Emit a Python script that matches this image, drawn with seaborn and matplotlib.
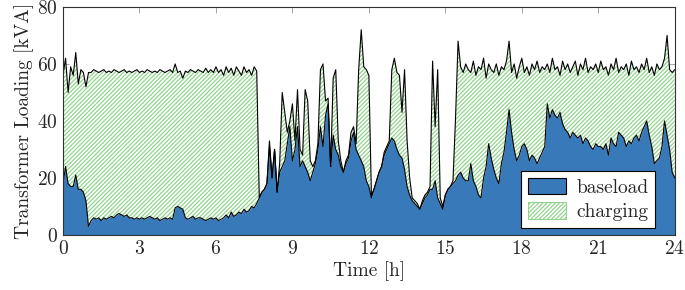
import numpy as np
import pandas as pd
import matplotlib
matplotlib.use('Agg')
import matplotlib.pyplot as plt
import seaborn as sns
from matplotlib.patches import Patch

# Time axis, 6-minute resolution over one day
hours = np.round(np.arange(0, 24.01, 0.1), 1)

# Baseload (kVA)
baseload = [
    18, 24, 18, 17, 17, 21, 16, 16, 15, 12,
    3, 5, 6, 5.5, 6, 5, 6, 5.5, 6, 6.5,
    6, 7, 7.5, 7, 6.5, 7, 6, 6, 5.5, 6,
    5.5, 6, 5.5, 6, 6.5, 6, 5.5, 6, 5, 5.5,
    6, 5.5, 6, 5.5, 9.5, 10, 9.5, 9, 6, 5.5,
    6, 6.5, 5.5, 6, 6, 5.5, 5, 5.5, 6, 5.5,
    6, 5, 5.5, 6, 7, 6, 8, 6.5, 7, 8,
    7.5, 9, 8, 8.5, 10, 9.5, 11, 13, 15, 16,
    18, 31, 20, 30, 15, 22, 24, 26, 32, 38,
    26, 30, 38, 24, 26, 24, 22, 19, 22, 25,
    30, 38, 31, 42, 46, 24, 35, 30, 28, 24,
    22, 25, 27, 33, 36, 30, 28, 26, 24, 19,
    17, 13, 16, 19, 22, 24, 28, 30, 32, 34,
    33, 30, 28, 27, 23, 17, 14, 12, 11, 10,
    9, 11, 13, 14, 16, 16, 19, 13, 11, 9,
    14, 16, 17, 18, 19, 21, 22, 20, 19, 19,
    25, 19, 17, 14, 13, 20, 24, 32, 27, 23,
    20, 18, 25, 29, 36, 44, 36, 30, 26, 28,
    31, 32, 30, 26, 28, 27, 25, 27, 29, 31,
    46, 41, 44, 42, 41, 43, 39, 37, 36, 34,
    36, 35, 34, 35, 32, 34, 33, 31, 30, 32,
    31, 31, 30, 32, 28, 34, 32, 31, 36, 35,
    34, 31, 33, 32, 34, 35, 33, 36, 38, 40,
    35, 31, 25, 26, 27, 31, 40, 35, 30, 22,
    20,
]

# Total transformer loading (baseload + charging), kVA
total = [
    56, 62, 50, 59, 56, 64, 53, 58, 57, 52,
    57, 57, 58, 57.5, 57, 57.5, 58, 57, 57.5, 57,
    58, 57.5, 57, 57.5, 58, 57, 57.5, 57, 57.5, 58,
    57, 57.5, 57, 58, 57.5, 57, 57.5, 57, 58, 57.5,
    57, 57.5, 58, 57, 60, 57, 57.5, 55, 57.5, 57,
    58, 57.5, 57, 58, 57.5, 57, 58.5, 57, 58, 57,
    59, 57, 58, 56, 59, 57, 58.5, 56, 59, 57.5,
    56, 59, 57, 58, 56, 59, 57.5, 13, 15, 16,
    18, 33, 20, 30, 15, 25, 50, 43, 36, 40,
    46, 33, 51, 30, 28, 51, 47, 26, 24, 26,
    32, 58, 60, 47, 48, 24, 55, 58, 33, 26,
    22, 26, 28, 36, 38, 32, 58, 72, 59, 58,
    56, 14, 16, 19, 22, 24, 29, 31, 33, 58,
    62, 57, 56, 43, 58, 33, 20, 13, 12, 11,
    9, 12, 14, 15, 17, 61, 38, 58, 13, 10,
    14, 16, 17, 19, 41, 68, 59, 57, 60, 58,
    57, 61, 56, 59, 58, 62, 55, 60, 58, 57,
    60, 56, 59, 58, 61, 68, 57, 60, 55, 59,
    62, 57, 59, 56, 60, 58, 61, 57, 59, 58,
    60, 57, 62, 58, 59, 56, 61, 58, 60, 57,
    59, 61, 56, 60, 58, 62, 57, 59, 58, 60,
    57, 61, 58, 59, 56, 60, 58, 62, 57, 59,
    58, 60, 56, 61, 58, 59, 57, 60, 58, 62,
    57, 59, 56, 60, 58, 59, 62, 70, 58, 57,
    58,
]

df = pd.DataFrame({'hour': hours, 'baseload': baseload, 'total': total})
df['charging'] = df['total'] - df['baseload']

blue = '#3879ba'
green = '#92d48e'

sns.set_theme(style='ticks')
plt.rcParams['font.family'] = ['cmr10', 'DejaVu Serif']
plt.rcParams['axes.formatter.use_mathtext'] = True
plt.rcParams['hatch.linewidth'] = 0.9

fig = plt.figure(figsize=(6.85, 2.9), dpi=100)
ax = fig.add_axes([0.092, 0.19, 0.893, 0.786])

ax.fill_between(df['hour'], 0, df['baseload'], facecolor=blue, linewidth=0)
ax.fill_between(df['hour'], df['baseload'], df['total'], facecolor='white',
                edgecolor=green, hatch='////////', linewidth=0)
sns.lineplot(data=df, x='hour', y='baseload', color='black', lw=0.8, ax=ax)
sns.lineplot(data=df, x='hour', y='total', color='black', lw=0.8, ax=ax)

ax.set_xlim(0, 24)
ax.set_ylim(0, 80)
ax.set_xticks(range(0, 25, 3))
ax.set_yticks(range(0, 81, 20))
ax.tick_params(direction='in', top=True, right=True, length=4, width=0.6,
               color='#999999', labelsize=14, pad=4)
for s in ax.spines.values():
    s.set_color('#333333')
    s.set_linewidth(0.8)
ax.set_xlabel('Time [h]', fontsize=14, labelpad=2)
ax.set_ylabel('Transformer Loading [kVA]', fontsize=14, labelpad=2)

handles = [Patch(facecolor=blue, edgecolor='black', linewidth=0.8),
           Patch(facecolor='white', edgecolor=green, hatch='////////', linewidth=0.8)]
leg = ax.legend(handles, ['baseload', 'charging'], loc='lower right',
                bbox_to_anchor=(0.968, 0.03), borderaxespad=0, fontsize=14,
                fancybox=False, framealpha=1, edgecolor='black',
                handlelength=2.0, handleheight=0.9, borderpad=0.35,
                labelspacing=0.3, handletextpad=0.5)
leg.get_frame().set_linewidth(0.8)

fig.savefig('out.png', dpi=100)
